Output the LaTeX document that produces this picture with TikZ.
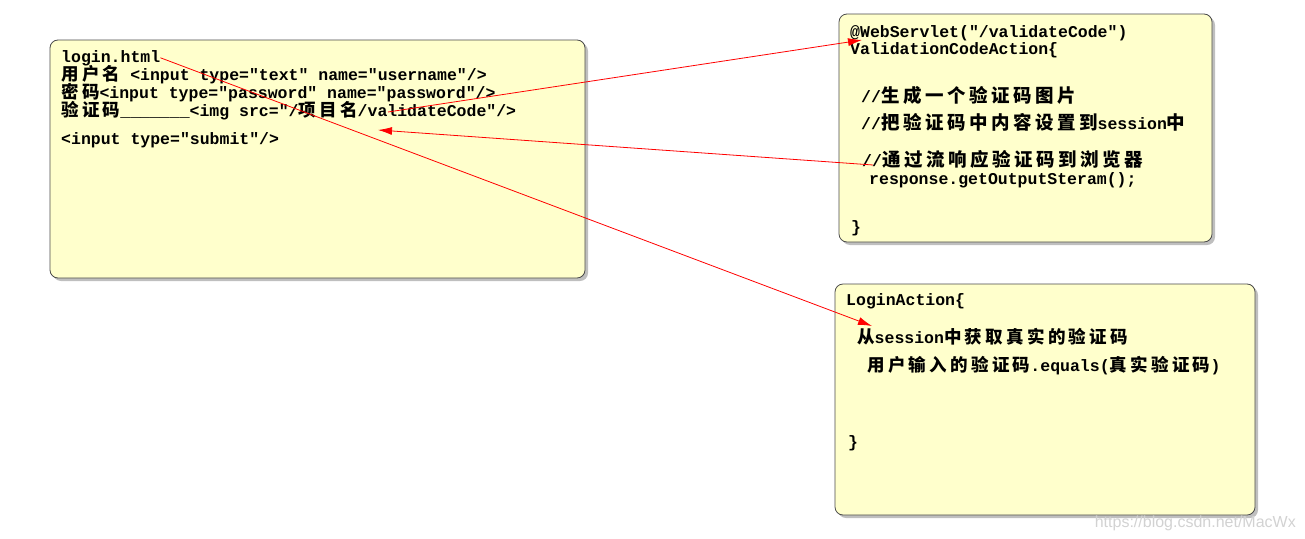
\documentclass[tikz,border=0pt]{standalone}
\usepackage{fontspec}
\setmonofont{Liberation Mono}
\newfontfamily\cjkfont{Noto Sans CJK SC}[LetterSpace=19]
\newfontfamily\markfont{Liberation Sans}
\usetikzlibrary{arrows.meta,shadows}
\definecolor{notefill}{HTML}{FFFFCC}
\definecolor{noteline}{HTML}{4A4A4A}
\newcommand{\cn}[1]{{\cjkfont\bfseries\fontsize{17.5}{18}\selectfont #1}}
\newcommand{\cnbig}[1]{{\cjkfont\bfseries\fontsize{18.5}{19}\selectfont #1}}
\tikzset{
  note/.style={draw=noteline, fill=notefill, rounded corners=8pt, line width=0.8pt,
    drop shadow={shadow xshift=3pt, shadow yshift=-3pt, fill=black!50, opacity=0.5}},
  code/.style={anchor=base west, inner sep=0pt,
    font=\ttfamily\bfseries\fontsize{16.5}{18}\selectfont},
  link/.style={red, line width=0.8pt, -{Latex[length=14pt,width=8pt]}},
}
\begin{document}
\begin{tikzpicture}[x=1pt, y=-1pt]
    \useasboundingbox (0,0) rectangle (1305,538);

    % login.html
    \draw[note] (50,40) rectangle (585,278);
    \node[code] (file) at (61,62) {login.html};
    \node[code] (user) at (61,80) {\cn{用户名} <input type="text" name="username"/>};
    \node[code] (pass) at (61,98) {\cn{密码}<input type="password" name="password"/>};
    \node[code] (img) at (61,116) {\cn{验证码}\_\_\_\_\_\_\_<img src="/\cn{项目名}/validateCode"/>};
    \node[code] (submit) at (61,144) {<input type="submit"/>};

    % ValidationCodeAction
    \draw[note] (839,14) rectangle (1212,242);
    \node[code] (servlet) at (850,37) {@WebServlet("/validateCode")};
    \node[code] (vclass) at (850,54) {ValidationCodeAction\{};
    \node[code] (make) at (861,102) {//\cnbig{生成一个验证码图片}};
    \node[code] (store) at (861,129) {//\cnbig{把验证码中内容设置到}session\cnbig{中}};
    \node[code] (send) at (862,166) {//\cnbig{通过流响应验证码到浏览器}};
    \node[code] (resp) at (869,184) {response.getOutputSteram();};
    \node[code] (vend) at (851,232) {\}};

    % LoginAction
    \draw[note] (835,284) rectangle (1255,515);
    \node[code] (lclass) at (846,305) {LoginAction\{};
    \node[code] (fetch) at (857,343) {\cn{从}session\cn{中获取真实的验证码}};
    \node[code] (check) at (867,371) {\cn{用户输入的验证码}.equals(\cn{真实验证码})};
    \node[code] (lend) at (848,447) {\}};

    % Pfeile
    \coordinate (imgsrc) at (388,112);
    \coordinate (tovclass) at (862,40);
    \coordinate (fromsend) at (873,165);
    \coordinate (toimg) at (378,130);
    \coordinate (tofetch) at (872,326);
    \draw[link] (imgsrc) -- (tovclass);
    \draw[link] (fromsend) -- (toimg);
    \draw[link] (file.east) -- (tofetch);

    \node[font=\markfont\fontsize{16}{16}\selectfont, text=gray!35, anchor=base east, inner sep=0pt]
        (mark) at (1296,527) {https://blog.csdn.net/MacWx};
\end{tikzpicture}
\end{document}
